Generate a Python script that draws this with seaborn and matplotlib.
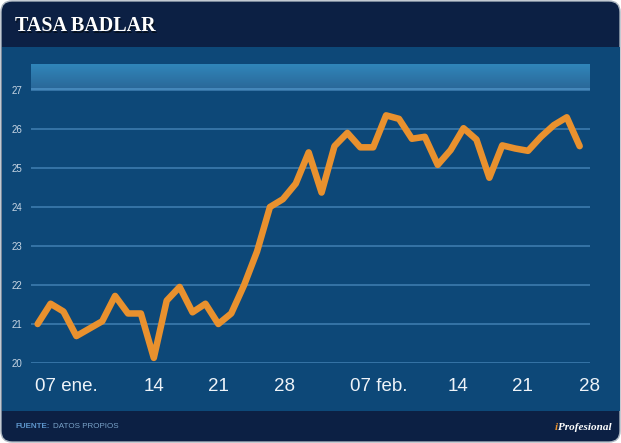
import matplotlib
matplotlib.use("Agg")
import matplotlib.pyplot as plt
import seaborn as sns
import numpy as np
import pandas as pd
from matplotlib.patches import FancyBboxPatch, Rectangle

# ---- data ----
values = [21.0, 21.52, 21.32, 20.69, 20.88, 21.07, 21.72, 21.27, 21.27, 20.13,
          21.6, 21.95, 21.3, 21.52, 21.0, 21.27, 22.0, 22.86, 24.0, 24.2,
          24.6, 25.4, 24.37, 25.56, 25.9, 25.53, 25.53, 26.35, 26.26, 25.75,
          25.8, 25.08, 25.46, 26.02, 25.73, 24.75, 25.58, 25.5, 25.44, 25.8,
          26.1, 26.3, 25.56]
day_index = list(range(len(values)))
tick_labels = ["07 ene.", "14", "21", "28", "07 feb.", "14", "21", "28"]
tick_positions = [2.26, 9.03, 14.0, 19.1, 26.4, 32.6, 37.6, 42.8]
y_ticks = [20, 21, 22, 23, 24, 25, 26, 27]

title = "TASA BADLAR"
source_label = "FUENTE:"
source_text = "DATOS PROPIOS"

df = pd.DataFrame({"dia": day_index, "tasa": values})

W, H = 621, 443
fig = plt.figure(figsize=(W / 100, H / 100), dpi=100, facecolor="white")

# ---- background panel ----
bg = fig.add_axes([0, 0, 1, 1], zorder=-10)
bg.set_xlim(0, W)
bg.set_ylim(H, 0)
bg.axis("off")
bg.add_patch(FancyBboxPatch((1, 1), W - 2, H - 2,
                            boxstyle="round,pad=0,rounding_size=11",
                            fc="#0c2044", ec="#aab4bf", lw=1))
bg.add_patch(Rectangle((1.5, 47), W - 3, 364, fc="#0d4878", ec="none"))

# title with shadow
bg.text(16.5, 32.5, title, family="Liberation Serif", weight="bold", size=14.5,
        color="#05101f", va="baseline", ha="left")
bg.text(15, 31, title, family="Liberation Serif", weight="bold", size=14.5,
        color="white", va="baseline", ha="left")

# footer
bg.text(15, 426, source_label, family="Liberation Sans", weight="bold", size=5.8,
        color="#5d95cb", va="center", ha="left")
bg.text(53, 426, source_text, family="Liberation Sans", size=5.8,
        color="#7aa3c9", va="center", ha="left")
t = bg.text(612, 427, "Profesional", family="Liberation Serif", style="italic",
            weight="bold", size=8, color="white", va="center", ha="right")
fig.canvas.draw()
bb = t.get_window_extent()
bg.text(bb.x0 - 0.3, 427, "i", family="Liberation Serif", style="italic",
        weight="bold", size=8, color="#e8912e", va="center", ha="right")

# ---- banner gradient ----
ban = fig.add_axes([31 / W, (H - 90) / H, 559 / W, 26 / H], zorder=-5)
grad = np.linspace(0, 1, 50).reshape(-1, 1)
top = np.array([0x30, 0x86, 0xba]) / 255
bot = np.array([0x2a, 0x66, 0x97]) / 255
img = top[None, None, :] * (1 - grad[:, :, None]) + bot[None, None, :] * grad[:, :, None]
ban.imshow(img, aspect="auto", extent=(0, 1, 0, 1))
ban.axhline(0.02, color="#4b8ec2", lw=1.2)
ban.axis("off")

# ---- main axes ----
ax = fig.add_axes([31 / W, (H - 363) / H, 559 / W, 273 / H])
ax.set_facecolor("none")
step = 12.99
ax.set_xlim(-(37.7 - 31) / step, 42 + (590 - 583.3) / step)
ax.set_ylim(20, 27)
ax.set_yticks(y_ticks)
ax.yaxis.grid(True, color="#3d7bae", lw=1.2)
ax.xaxis.grid(False)
ax.set_axisbelow(True)
for s in ax.spines.values():
    s.set_visible(False)

sns.lineplot(data=df, x="dia", y="tasa", ax=ax, color="#e9912e", lw=4.7,
             solid_joinstyle="round", solid_capstyle="round", zorder=5)

ax.set_xlabel("")
ax.set_ylabel("")
ax.set_xticks(tick_positions)
ax.set_xticklabels(tick_labels)
ax.tick_params(axis="x", length=0, pad=11, labelsize=13.5, labelcolor="#eef3f8")
ax.tick_params(axis="y", length=0, pad=6.5, labelsize=7, labelcolor="#c8d6e4")
for lab in ax.get_xticklabels() + ax.get_yticklabels():
    lab.set_family("Liberation Sans")

fig.savefig("out.png", dpi=100, facecolor="white")
